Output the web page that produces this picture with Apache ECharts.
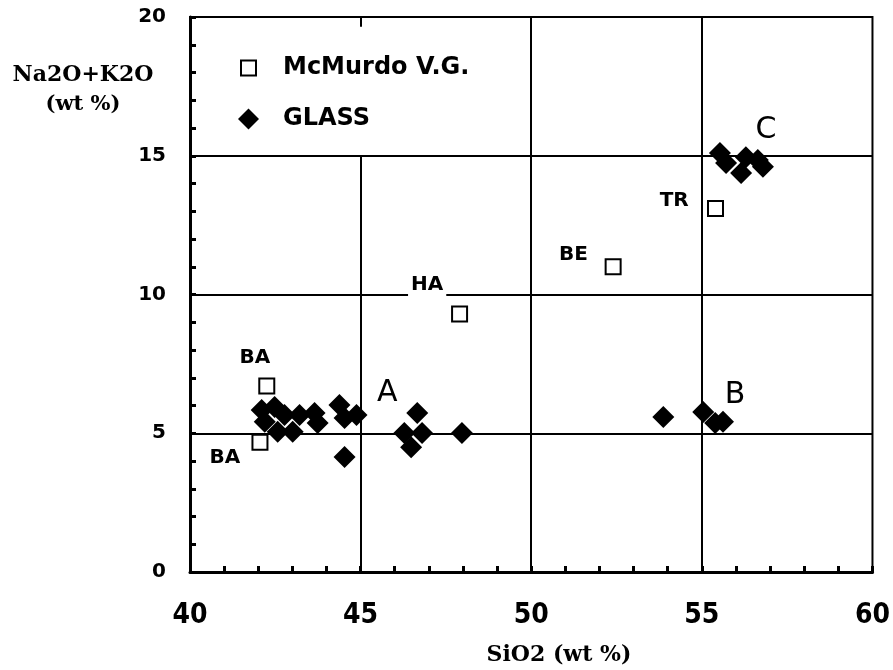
<!DOCTYPE html>
<html>
<head>
<meta charset="utf-8">
<script src="https://cdn.jsdelivr.net/npm/echarts@6/dist/echarts.min.js"></script>
<style>
html,body{margin:0;padding:0;background:#fff;}
#chart{width:893px;height:670px;}
</style>
</head>
<body>
<div id="chart"></div>
<script>
// ---- data ----
const xTickValues = [40, 45, 50, 55, 60];
const xTickLabels = ['40', '45', '50', '55', '60'];
const yTickValues = [0, 5, 10, 15, 20];
const yTickLabels = ['0', '5', '10', '15', '20'];

// McMurdo V.G. (open squares)  [SiO2, Na2O+K2O]
const mcmurdo = [
  [42.25, 6.70],
  [42.05, 4.68],
  [47.90, 9.30],
  [52.40, 11.00],
  [55.40, 13.10]
];

// GLASS (filled diamonds)
const glass = [
  [42.10, 5.84], [42.19, 5.41], [42.48, 5.95], [42.57, 5.05], [42.77, 5.66],
  [43.01, 5.05], [43.21, 5.66], [43.65, 5.73], [43.74, 5.37], [44.38, 6.02],
  [44.53, 5.55], [44.88, 5.66], [44.53, 4.14],
  [46.66, 5.73], [46.28, 5.01], [46.80, 5.01], [46.48, 4.50], [47.97, 5.01],
  [53.87, 5.59], [55.04, 5.77], [55.39, 5.37], [55.62, 5.41],
  [55.53, 15.10], [55.71, 14.74], [56.15, 14.38], [56.29, 14.95], [56.64, 14.85], [56.79, 14.60]
];

// rock-type annotations
const rockLabels = ['BA', 'BA', 'HA', 'BE', 'TR'];
const rockLabelPos = [[41.90, 7.71], [41.02, 4.11], [46.95, 10.34], [51.24, 11.42], [54.19, 13.37]];
const groupLabels = ['A', 'B', 'C'];
const groupLabelPos = [[45.78, 6.45], [55.97, 6.38], [56.88, 15.93]];

// partial / full vertical grid lines: [x, yFrom, yTo]
const vGrid = [[45, 0, 15], [50, 0, 20], [55, 0, 20], [45, 19.65, 20]];

const chart = echarts.init(document.getElementById('chart'), null, {renderer: 'canvas'});

const annData = [];
rockLabels.forEach((t, i) => annData.push({
  name: t, value: rockLabelPos[i],
  label: {fontFamily: 'DejaVu Sans', fontWeight: 'bold', fontSize: 20, color: '#000',
          backgroundColor: t === 'HA' ? '#fff' : 'transparent', padding: [2, 3]}
}));
groupLabels.forEach((t, i) => annData.push({
  name: t, value: groupLabelPos[i],
  label: {fontFamily: 'DejaVu Sans', fontWeight: 'normal', fontSize: 30, color: '#000'}
}));

const serifBold = {fontFamily: 'DejaVu Serif', fontWeight: 'bold', fill: '#000'};

const option = {
  animation: false,
  backgroundColor: '#fff',
  grid: {left: 190, right: 18, top: 17, bottom: 98, show: true,
         borderColor: '#000', borderWidth: 2, backgroundColor: 'transparent'},
  xAxis: {
    type: 'value', min: 40, max: 60, interval: 5,
    axisLine: {onZero: false, lineStyle: {color: '#000', width: 3}},
    axisTick: {inside: true, length: 6, lineStyle: {color: '#000', width: 3}},
    minorTick: {show: true, splitNumber: 5, length: 6, lineStyle: {color: '#000', width: 3}},
    splitLine: {show: false},
    axisLabel: {
      margin: 30, fontSize: 28, fontWeight: 'bold',
      fontFamily: 'DejaVu Sans Condensed, DejaVu Sans', color: '#000',
      formatter: v => { const i = xTickValues.indexOf(v); return i >= 0 ? xTickLabels[i] : ''; }
    }
  },
  yAxis: {
    type: 'value', min: 0, max: 20, interval: 5,
    axisLine: {onZero: false, lineStyle: {color: '#000', width: 3}},
    axisTick: {inside: true, length: 6, lineStyle: {color: '#000', width: 3}},
    minorTick: {show: true, splitNumber: 5, length: 6, lineStyle: {color: '#000', width: 3}},
    splitLine: {show: true, lineStyle: {color: '#000', width: 2}},
    axisLabel: {
      margin: 24, fontSize: 20, fontWeight: 'bold', fontFamily: 'DejaVu Sans', color: '#000',
      formatter: v => { const i = yTickValues.indexOf(v); return i >= 0 ? yTickLabels[i] : ''; }
    }
  },
  legend: [
    {
      data: ['McMurdo V.G.'], orient: 'vertical', left: 235, top: 51,
      itemWidth: 15, itemHeight: 15, selectedMode: false,
      textStyle: {fontFamily: 'DejaVu Sans', fontWeight: 'bold', fontSize: 24, color: '#000',
                  padding: [0, 0, 0, 22], lineHeight: 24}
    },
    {
      data: ['GLASS'], orient: 'vertical', left: 233, top: 102,
      itemWidth: 21, itemHeight: 21, selectedMode: false,
      textStyle: {fontFamily: 'DejaVu Sans', fontWeight: 'bold', fontSize: 24, color: '#000',
                  padding: [0, 0, 0, 19], lineHeight: 24}
    }
  ],
  series: [
    {
      name: 'annotations', type: 'scatter', z: 1,
      symbolSize: 1, itemStyle: {color: 'rgba(0,0,0,0)', opacity: 1},
      data: annData,
      label: {show: true, position: 'inside', formatter: '{b}', color: '#000'},
      emphasis: {disabled: true},
      markLine: {
        silent: true, symbol: ['none', 'none'], animation: false,
        label: {show: false},
        lineStyle: {color: '#000', width: 2, type: 'solid', opacity: 1},
        data: vGrid.map(g => [{coord: [g[0], g[1]]}, {coord: [g[0], g[2]]}])
      }
    },
    {
      name: 'McMurdo V.G.', type: 'scatter', z: 3,
      symbol: 'emptyRect', symbolSize: 15,
      itemStyle: {color: '#000', borderColor: '#000', borderWidth: 3, opacity: 1},
      data: mcmurdo
    },
    {
      name: 'GLASS', type: 'scatter', z: 4,
      symbol: 'diamond', symbolSize: 22,
      itemStyle: {color: '#000', opacity: 1},
      data: glass
    }
  ],
  graphic: [
    {type: 'text', style: Object.assign({text: 'Na2O+K2O', x: 83, y: 75, fontSize: 22,
      textAlign: 'center', textVerticalAlign: 'middle'}, serifBold)},
    {type: 'text', style: Object.assign({text: '(wt %)', x: 83, y: 105, fontSize: 21,
      textAlign: 'center', textVerticalAlign: 'middle'}, serifBold)},
    {type: 'text', style: Object.assign({text: 'SiO2 (wt %)', x: 559, y: 655, fontSize: 22,
      textAlign: 'center', textVerticalAlign: 'middle'}, serifBold)}
  ]
};

chart.setOption(option);
</script>
</body>
</html>
